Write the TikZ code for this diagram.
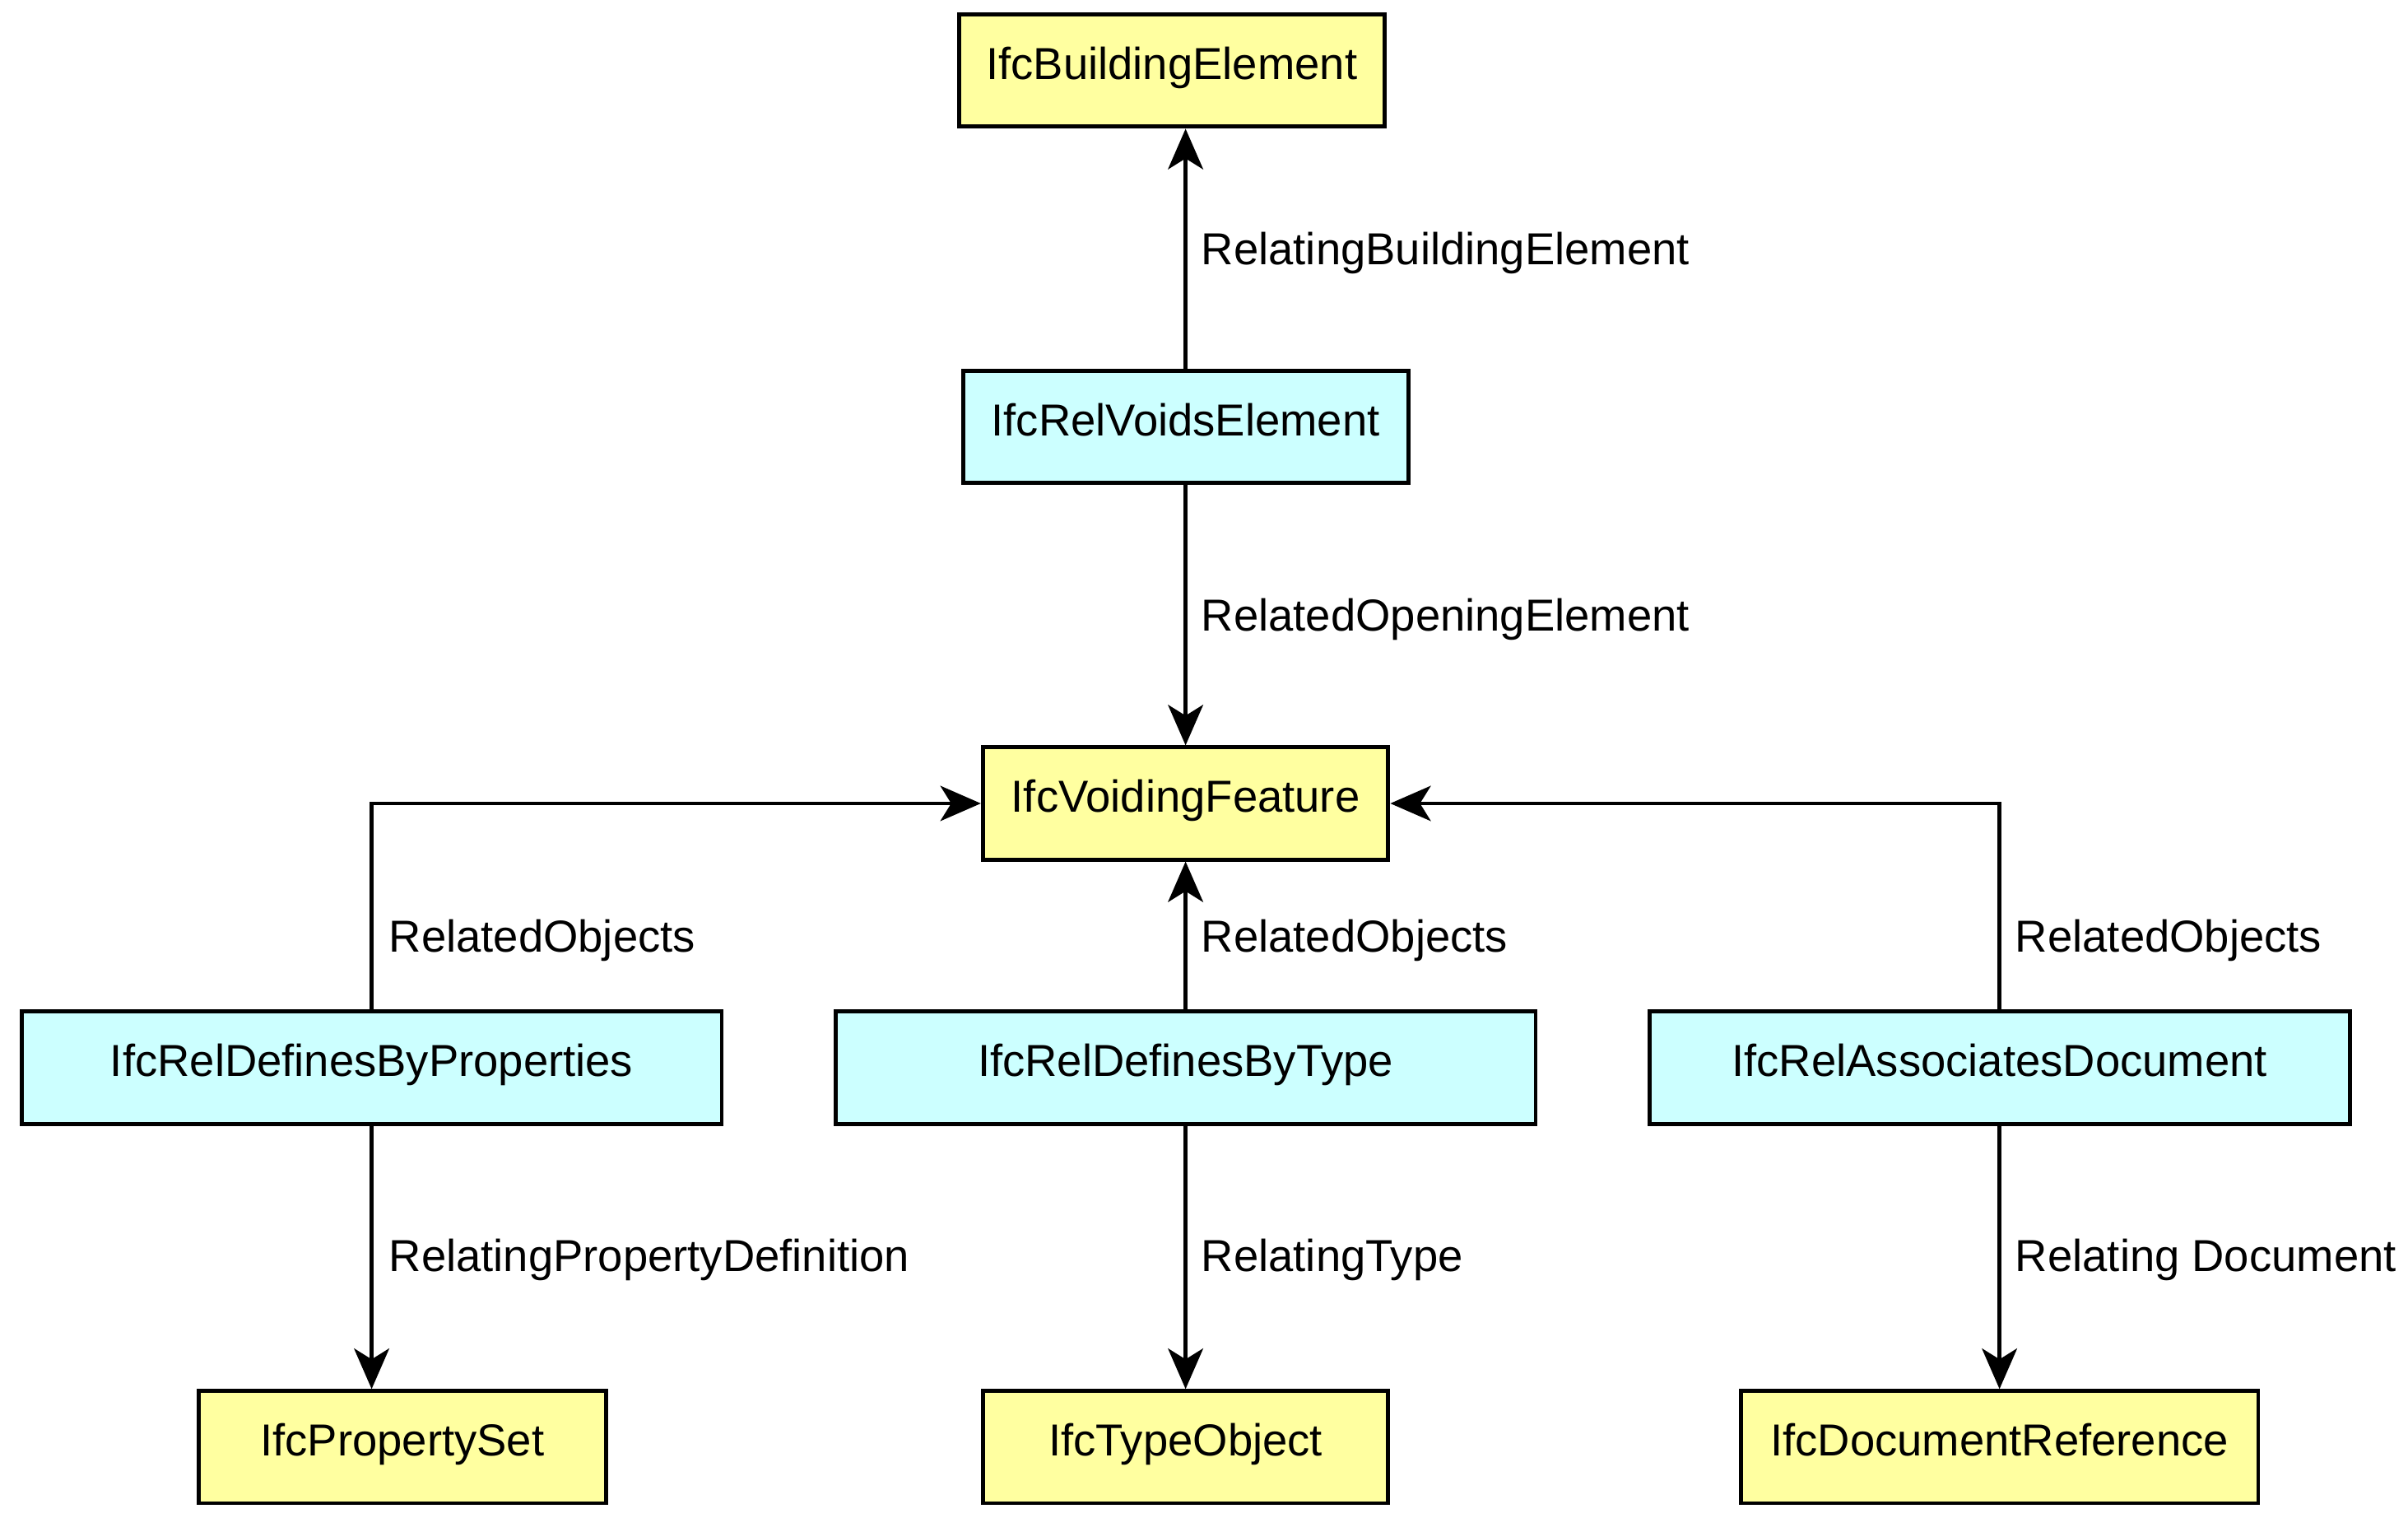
\documentclass[tikz,border=0pt]{standalone}
\usepackage{fontspec}
\setmainfont{Liberation Sans}
\usetikzlibrary{arrows.meta}
\definecolor{entfill}{HTML}{FFFFA0}
\definecolor{relfill}{HTML}{CCFFFF}
\tikzset{
  entity/.style={draw, line width=1.5pt, fill=entfill, minimum height=1.46cm, inner sep=0pt, text height=1.6ex, text depth=0.4ex},
  rel/.style={draw, line width=1.5pt, fill=relfill, minimum height=1.46cm, inner sep=0pt, text height=1.6ex, text depth=0.4ex},
  link/.style={line width=1.5pt, -{Stealth[length=15pt,width=13pt,inset=4pt]}},
  lbl/.style={anchor=west, inner sep=0pt}
}
\begin{document}
\begin{tikzpicture}[x=0.02cm, y=-0.02cm, font=\fontsize{16.6}{20}\selectfont]
  \useasboundingbox (0,0) rectangle (1568,988);
  % entities
  \node[entity, minimum width=5.54cm] (bldg) at (763,46) {IfcBuildingElement};
  \node[entity, minimum width=5.28cm] (void) at (772,523) {IfcVoidingFeature};
  \node[entity, minimum width=5.30cm] (pset) at (262,942) {IfcPropertySet};
  \node[entity, minimum width=5.28cm] (type) at (772,942) {IfcTypeObject};
  \node[entity, minimum width=6.74cm] (docref) at (1302,942) {IfcDocumentReference};
  % relationships
  \node[rel, minimum width=5.80cm] (voids) at (772,278) {IfcRelVoidsElement};
  \node[rel, minimum width=9.12cm] (byprop) at (242,695) {IfcRelDefinesByProperties};
  \node[rel, minimum width=9.12cm] (bytype) at (772,695) {IfcRelDefinesByType};
  \node[rel, minimum width=9.12cm] (assoc) at (1302,695) {IfcRelAssociatesDocument};
  % connectors
  \draw[link] (voids.north) -- (voids.north |- bldg.south);
  \draw[link] (voids.south) -- (void.north);
  \draw[link] (byprop.north) |- (void.west);
  \draw[link] (bytype.north) -- (void.south);
  \draw[link] (assoc.north) |- (void.east);
  \draw[link] (byprop.south) -- (byprop.south |- pset.north);
  \draw[link] (bytype.south) -- (type.north);
  \draw[link] (assoc.south) -- (docref.north);
  % labels
  \node[lbl] (l1) at (782,165) {RelatingBuildingElement};
  \node[lbl] (l2) at (782,403) {RelatedOpeningElement};
  \node[lbl] (l3) at (253,612) {RelatedObjects};
  \node[lbl] (l4) at (782,612) {RelatedObjects};
  \node[lbl] (l5) at (1312,612) {RelatedObjects};
  \node[lbl] (l6) at (253,820) {RelatingPropertyDefinition};
  \node[lbl] (l7) at (782,820) {RelatingType};
  \node[lbl] (l8) at (1312,820) {Relating Document};
\end{tikzpicture}
\end{document}
